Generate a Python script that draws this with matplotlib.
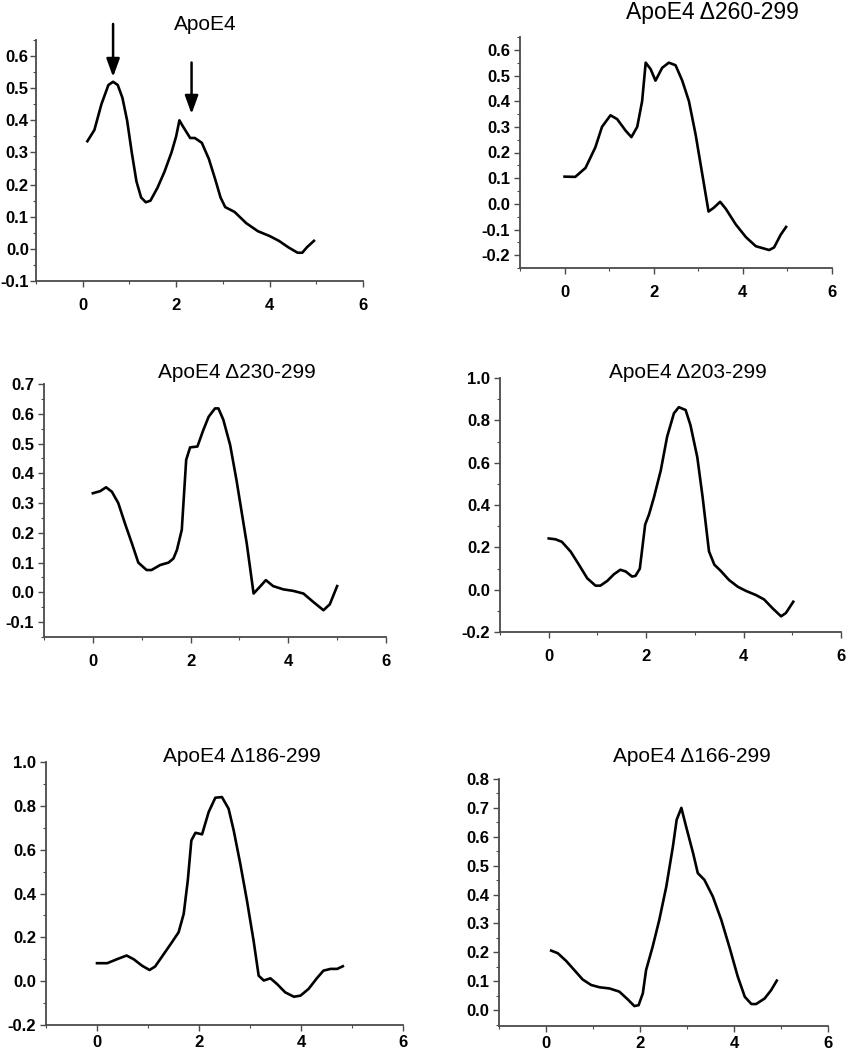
import numpy as np
import matplotlib
matplotlib.use("Agg")
import matplotlib.pyplot as plt
from matplotlib.ticker import MultipleLocator, FormatStrFormatter

plt.rcParams['font.family'] = ['Liberation Sans', 'DejaVu Sans']

# ---- data ----
titles = ["ApoE4", "ApoE4 \u0394260-299", "ApoE4 \u0394230-299",
          "ApoE4 \u0394203-299", "ApoE4 \u0394186-299", "ApoE4 \u0394166-299"]

x1 = [0.1, 0.25, 0.4, 0.55, 0.65, 0.75, 0.85, 0.95, 1.05, 1.15, 1.25, 1.35, 1.45, 1.6, 1.75,
      1.9, 2.0, 2.07, 2.15, 2.3, 2.4, 2.55, 2.7, 2.85, 2.95, 3.05, 3.25, 3.5, 3.75, 4.0, 4.2,
      4.4, 4.6, 4.7, 4.8, 4.95]
y1 = [0.335, 0.37, 0.45, 0.51, 0.52, 0.51, 0.47, 0.40, 0.30, 0.21, 0.16, 0.145, 0.15, 0.19, 0.24,
      0.30, 0.35, 0.40, 0.38, 0.345, 0.345, 0.33, 0.28, 0.21, 0.16, 0.13, 0.115, 0.08, 0.055, 0.04, 0.025,
      0.005, -0.012, -0.012, 0.005, 0.025]

x2 = [0.0, 0.24, 0.47, 0.69, 0.84, 1.03, 1.18, 1.37, 1.5, 1.63, 1.74, 1.82, 1.93, 2.04, 2.19,
      2.34, 2.49, 2.64, 2.79, 2.94, 3.09, 3.23, 3.35, 3.49, 3.62, 3.84, 4.07, 4.29, 4.59, 4.70,
      4.85, 4.97]
y2 = [0.106, 0.105, 0.14, 0.22, 0.30, 0.345, 0.33, 0.285, 0.26, 0.30, 0.40, 0.55, 0.525, 0.48, 0.53,
      0.55, 0.54, 0.48, 0.40, 0.27, 0.115, -0.03, -0.015, 0.008, -0.02, -0.08, -0.13, -0.165, -0.18, -0.17,
      -0.12, -0.09]

x3 = [0.0, 0.15, 0.27, 0.39, 0.52, 0.66, 0.80, 0.93, 1.1, 1.2, 1.38, 1.55, 1.65, 1.72, 1.82,
      1.91, 1.99, 2.14, 2.26, 2.37, 2.50, 2.57, 2.67, 2.81, 2.94, 3.15, 3.29, 3.42, 3.54, 3.69,
      3.90, 4.10, 4.31, 4.51, 4.72, 4.85, 5.0]
y3 = [0.333, 0.34, 0.353, 0.338, 0.30, 0.23, 0.164, 0.10, 0.075, 0.075, 0.092, 0.10, 0.114, 0.142, 0.21,
      0.445, 0.487, 0.49, 0.545, 0.59, 0.618, 0.618, 0.58, 0.495, 0.377, 0.164, -0.004, 0.019, 0.041, 0.021,
      0.01, 0.005, -0.004, -0.032, -0.06, -0.04, 0.021]

x4 = [0.0, 0.14, 0.27, 0.45, 0.62, 0.79, 0.96, 1.06, 1.2, 1.34, 1.47, 1.58, 1.71, 1.78, 1.87,
      1.98, 2.06, 2.16, 2.30, 2.43, 2.57, 2.67, 2.81, 2.91, 3.05, 3.16, 3.29, 3.40, 3.53, 3.70,
      3.88, 4.05, 4.25, 4.42, 4.60, 4.77, 4.87, 5.02]
y4 = [0.242, 0.238, 0.226, 0.18, 0.118, 0.054, 0.019, 0.019, 0.041, 0.073, 0.094, 0.086, 0.062, 0.065, 0.099,
      0.308, 0.356, 0.436, 0.563, 0.722, 0.833, 0.862, 0.849, 0.777, 0.626, 0.436, 0.181, 0.118, 0.089, 0.046,
      0.014, -0.006, -0.025, -0.046, -0.089, -0.126, -0.11, -0.057]

x5 = [0.0, 0.2, 0.39, 0.58, 0.72, 0.88, 1.03, 1.14, 1.31, 1.47, 1.6, 1.70, 1.78, 1.85, 1.93,
      2.06, 2.19, 2.32, 2.45, 2.58, 2.68, 2.81, 2.94, 3.07, 3.17, 3.27, 3.40, 3.53, 3.69, 3.86,
      3.99, 4.15, 4.31, 4.44, 4.58, 4.71, 4.82]
y5 = [0.082, 0.082, 0.10, 0.117, 0.10, 0.071, 0.051, 0.067, 0.124, 0.178, 0.223, 0.307, 0.459, 0.642, 0.677,
      0.67, 0.772, 0.837, 0.84, 0.787, 0.688, 0.535, 0.368, 0.185, 0.025, 0.003, 0.013, -0.013, -0.051, -0.071,
      -0.066, -0.035, 0.013, 0.048, 0.056, 0.056, 0.068]

x6 = [0.11, 0.25, 0.43, 0.60, 0.78, 0.96, 1.14, 1.35, 1.56, 1.74, 1.88, 1.97, 2.06, 2.13, 2.27,
      2.41, 2.56, 2.70, 2.78, 2.88, 2.98, 3.13, 3.23, 3.37, 3.55, 3.73, 3.91, 4.08, 4.23, 4.37,
      4.47, 4.65, 4.79, 4.91]
y6 = [0.206, 0.197, 0.17, 0.139, 0.106, 0.087, 0.079, 0.075, 0.064, 0.037, 0.014, 0.017, 0.058, 0.139, 0.22,
      0.312, 0.428, 0.566, 0.659, 0.70, 0.636, 0.543, 0.474, 0.451, 0.393, 0.312, 0.214, 0.116, 0.046, 0.021,
      0.021, 0.04, 0.069, 0.102]

xs = [x1, x2, x3, x4, x5, x6]
ys = [y1, y2, y3, y4, y5, y6]
ylims = [(-0.1, 0.65), (-0.25, 0.65), (-0.15, 0.7), (-0.2, 1.0), (-0.2, 1.0), (-0.055, 0.8)]
ymajor = [0.1, 0.1, 0.1, 0.2, 0.2, 0.1]
xticks = [0, 2, 4, 6]

# arrows on the first panel (x, tail y, head y)
arrow_x = [0.65, 2.33]
arrow_tail = [0.70, 0.58]
arrow_head = [0.535, 0.42]

W, H = 846, 1050
fig = plt.figure(figsize=(W / 100, H / 100), dpi=100)

# axes boxes in pixels: left, right, top, bottom
boxes = [(36, 363, 40, 281), (520, 832, 37, 268),
         (44, 386, 384, 637), (500, 841, 378, 632),
         (46, 403, 762, 1025), (499, 828, 779, 1026)]
title_pos = [(205, 24), (712, 12), (237, 373), (688, 372), (242, 757), (692, 757)]
title_size = [15, 16.5, 15, 15, 15, 15]
xpad = [8, 8, 8, 8, 3, 3]
ypad = [1.2, 3, 3, 3, 3, 3]

spine_col = '#4a4a4a'

for i in range(6):
    l, r, t, b = boxes[i]
    ax = fig.add_axes([l / W, 1 - b / H, (r - l) / W, (b - t) / H])
    ax.plot(xs[i], ys[i], color='black', lw=1.9, solid_joinstyle='round')
    ax.set_xlim(-1, 6)
    ax.set_ylim(*ylims[i])
    ax.spines['top'].set_visible(False)
    ax.spines['right'].set_visible(False)
    for s in ['left', 'bottom']:
        ax.spines[s].set_color(spine_col)
        ax.spines[s].set_linewidth(1.3)
    ax.set_xticks(xticks)
    ax.xaxis.set_minor_locator(MultipleLocator(1))
    ax.yaxis.set_major_locator(MultipleLocator(ymajor[i]))
    ax.yaxis.set_minor_locator(MultipleLocator(ymajor[i] / 2))
    ax.yaxis.set_major_formatter(FormatStrFormatter('%.1f'))
    ax.tick_params(which='major', direction='out', length=4, width=1, color=spine_col,
                   labelsize=12)
    ax.tick_params(which='minor', direction='out', length=2.5, width=0.8, color=spine_col)
    ax.tick_params(axis='x', which='major', pad=xpad[i])
    ax.tick_params(axis='y', which='major', pad=ypad[i])
    for lab in ax.get_xticklabels() + ax.get_yticklabels():
        lab.set_fontweight('bold')
    tx, ty = title_pos[i]
    fig.text(tx / W, 1 - ty / H, titles[i], ha='center', va='center', fontsize=title_size[i])

    if i == 0:
        for ax_x, yt, yh in zip(arrow_x, arrow_tail, arrow_head):
            ax.annotate('', xy=(ax_x, yh), xytext=(ax_x, yt), annotation_clip=False,
                        arrowprops=dict(arrowstyle='-|>,head_length=1.1,head_width=0.4',
                                        color='black', lw=1.8, shrinkA=0, shrinkB=0))

fig.savefig('out.png', dpi=100)
